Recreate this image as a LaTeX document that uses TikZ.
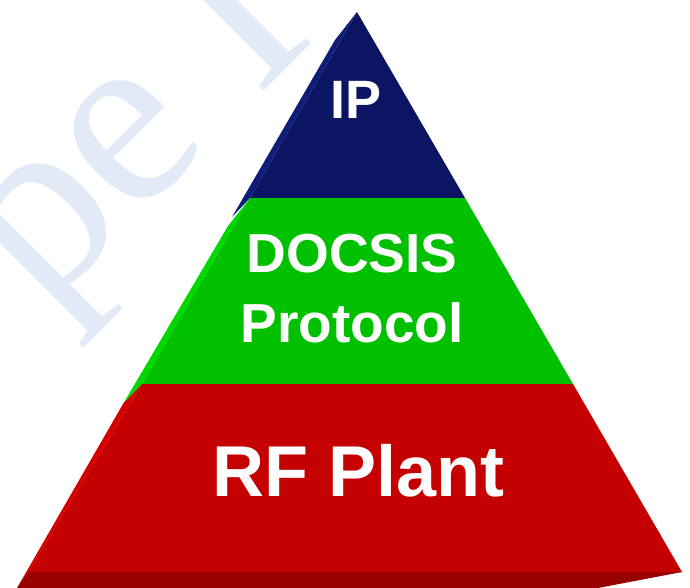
\documentclass[tikz,border=0pt]{standalone}
\usepackage{fontspec}
\usepackage{xcolor}
\usepackage{tikz}
\newfontfamily\layerfont{Liberation Sans}
\newfontfamily\markfont{Liberation Serif}
\definecolor{ipblue}{HTML}{0B1563}
\definecolor{ipside}{HTML}{0F1C78}
\definecolor{docgreen}{HTML}{00C000}
\definecolor{docside}{HTML}{00D800}
\definecolor{rfred}{HTML}{C40000}
\definecolor{rfside}{HTML}{D40000}
\definecolor{rfbase}{HTML}{990000}
\definecolor{markblue}{HTML}{E1EAF6}
\tikzset{
  layer/.style={draw=none},
  layertext/.style={text=white, align=center, inner sep=0pt,
                    font=\layerfont\bfseries},
  watermark/.style={text=markblue, inner sep=0pt, rotate=45,
                    font=\markfont\fontsize{255}{255}\selectfont},
}
\begin{document}
\begin{tikzpicture}[x=1pt, y=-1pt]
  \useasboundingbox (0,0) rectangle (690,588);
  \clip (0,0) rectangle (690,588);
  \fill[white] (0,0) rectangle (690,588);

  \node[watermark, anchor=base] (mark) at (180,175) {pe I};

  % top layer
  \fill[layer, ipblue] (357,12) -- (465,198) -- (250,198) -- cycle;
  \fill[layer, ipside] (357,12) -- (250,198) -- (232,217) -- (335,40) -- cycle;

  % middle layer
  \fill[layer, docgreen] (250,198) -- (465,198) -- (573,384) -- (142,384) -- cycle;
  \fill[layer, docside] (250,198) -- (142,384) -- (123,404) -- (228,226) -- cycle;

  % bottom layer
  \fill[layer, rfred] (142,384) -- (573,384) -- (682,572) -- (28,572) -- cycle;
  \fill[layer, rfside] (142,384) -- (28,572) -- (17,588) -- (123,404) -- cycle;
  \fill[layer, rfbase] (28,572) -- (682,572) -- (598,588) -- (17,588) -- cycle;

  \node[layertext, font=\layerfont\bfseries\fontsize{54}{60}\selectfont]
    (ip) at (356,100) {IP};
  \node[layertext, font=\layerfont\bfseries\fontsize{55}{70}\selectfont]
    (docsis) at (352,289) {DOCSIS\\Protocol};
  \node[layertext, font=\layerfont\bfseries\fontsize{72}{80}\selectfont]
    (rf) at (359,471) {RF Plant};
\end{tikzpicture}
\end{document}
